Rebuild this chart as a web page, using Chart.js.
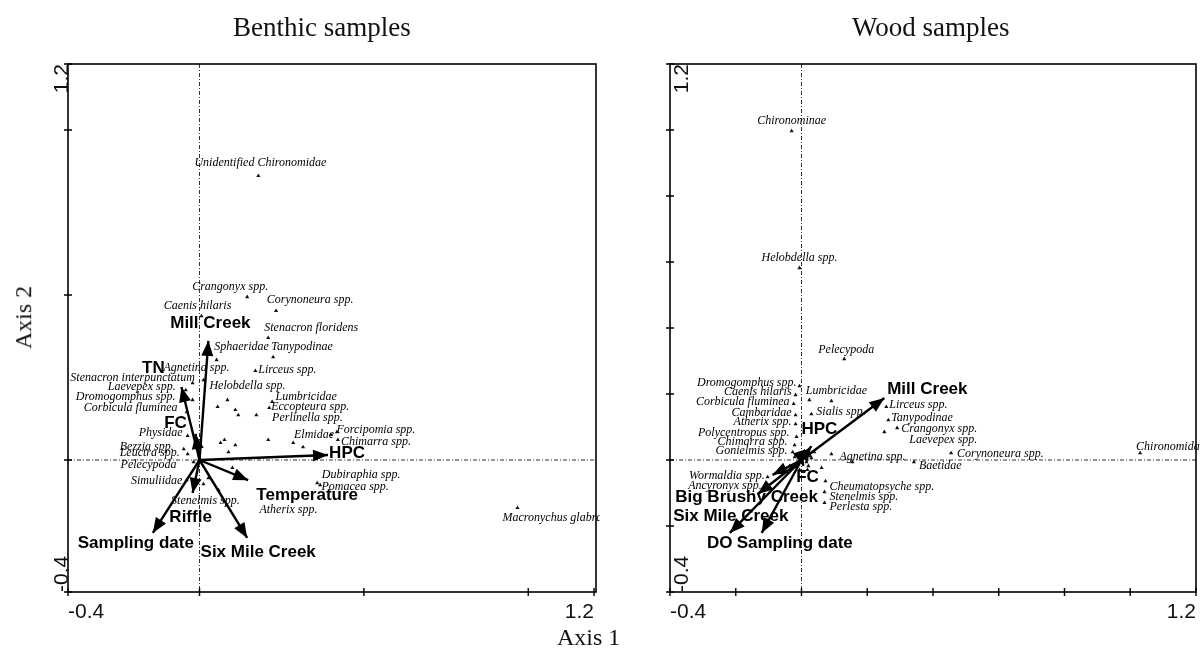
<!DOCTYPE html>
<html>
<head>
<meta charset="utf-8">
<script src="https://cdn.jsdelivr.net/npm/chart.js@4.4.1/dist/chart.umd.min.js"></script>
<style>
  body { margin: 0; background: #fff; width: 1200px; height: 654px; overflow: hidden; position: relative; }
  .panel { position: absolute; top: 0; width: 600px; height: 654px; }
  .txt { position: absolute; font-family: "Liberation Serif", "Times New Roman", serif; color: #111; white-space: nowrap; }
</style>
</head>
<body>
<div class="panel" style="left:0"><canvas id="benthic"></canvas></div>
<div class="panel" style="left:600px"><canvas id="wood"></canvas></div>
<div class="txt" style="left:233px;top:12px;font-size:27px">Benthic samples</div>
<div class="txt" style="left:852px;top:12px;font-size:27px">Wood samples</div>
<div class="txt" style="left:557px;top:624px;font-size:24px">Axis 1</div>
<div class="txt" style="left:-8px;top:304px;font-size:24px;transform:rotate(-90deg)">Axis 2</div>
<script>
// ---- Benthic samples ----
const benthicSpecies = ['Unidentified Chironomidae', 'Crangonyx spp.', 'Corynoneura spp.', 'Caenis hilaris',
  'Stenacron floridens', 'Sphaeridae', 'Tanypodinae', 'Agnetina spp.', 'Lirceus spp.', 'Stenacron interpunctatum',
  'Helobdella spp.', 'Laevepex spp.', 'Dromogomphus spp.', 'Lumbricidae', 'Eccopteura spp.', 'Corbicula fluminea',
  'Perlinella spp.', 'Physidae', 'Elmidae', 'Forcipomia spp.', 'Chimarra spp.', 'Bezzia spp.', 'Leuctra spp.',
  'Pelecypoda', 'Simuliidae', 'Stenelmis spp.', 'Dubiraphia spp.', 'Pomacea spp.', 'Atherix spp.', 'Macronychus glabratus'];
const benthicSpX = [0.179, 0.145, 0.233, 0.006, 0.209, 0.052, 0.224, 0.012, 0.170, -0.021,
  0.085, -0.042, -0.021, 0.221, 0.212, -0.039, 0.173, -0.036, 0.400, 0.418,
  0.421, -0.048, -0.036, -0.018, -0.039, 0.012, 0.358, 0.367, 0.100, 0.967];
const benthicSpY = [0.861, 0.494, 0.452, 0.436, 0.370, 0.303, 0.312, 0.242, 0.270, 0.233,
  0.182, 0.212, 0.182, 0.176, 0.158, 0.145, 0.136, 0.073, 0.076, 0.085,
  0.061, 0.033, 0.018, -0.006, -0.061, -0.073, -0.070, -0.076, -0.024, -0.145];
const benthicOtherX = [0.055, 0.109, 0.118, 0.064, 0.109, 0.209, 0.285, 0.315, 0.088, 0.058, 0.027, 0.076];
const benthicOtherY = [0.161, 0.152, 0.136, 0.052, 0.045, 0.061, 0.052, 0.039, 0.024, -0.091, -0.055, 0.061];
const benthicEnv = ['Mill Creek', 'TN', 'FC', 'HPC', 'Temperature', 'Riffle', 'Sampling date', 'Six Mile Creek'];
const benthicEnvX = [0.027, -0.055, -0.012, 0.391, 0.148, -0.021, -0.142, 0.145];
const benthicEnvY = [0.361, 0.221, 0.079, 0.015, -0.061, -0.100, -0.221, -0.236];
const benthicTicks = [-0.4, 0, 0.5, 1.0, 1.2];

// ---- Wood samples ----
const woodSpecies = ['Chironominae', 'Helobdella spp.', 'Pelecypoda', 'Dromogomphus spp.', 'Caenis hilaris',
  'Corbicula fluminea', 'Cambaridae', 'Atherix spp.', 'Polycentropus spp.', 'Chimarra spp.', 'Gonielmis spp.',
  'Wormaldia spp.', 'Ancyronyx spp.', 'Lumbricidae', 'Sialis spp.', 'Agnetina spp.', 'Lirceus spp.', 'Tanypodinae',
  'Crangonyx spp.', 'Laevepex spp.', 'Corynoneura spp.', 'Baetidae', 'Cheumatopsyche spp.', 'Stenelmis spp.',
  'Perlesta spp.', 'Chironomidae'];
const woodSpX = [-0.030, -0.006, 0.130, -0.006, -0.018, -0.024, -0.018, -0.018, -0.015, -0.021, -0.027,
  -0.103, -0.112, 0.091, 0.030, 0.091, 0.258, 0.264, 0.291, 0.252, 0.455, 0.342, 0.073, 0.070, 0.070, 1.030];
const woodSpY = [0.997, 0.582, 0.306, 0.224, 0.197, 0.170, 0.136, 0.109, 0.070, 0.045, 0.024,
  -0.052, -0.085, 0.179, 0.139, 0.018, 0.161, 0.121, 0.097, 0.085, 0.021, -0.006, -0.064, -0.097, -0.130, 0.021];
const woodOtherX = [0, 0.012, -0.012, 0.021, -0.006, 0.030, -0.021, 0.039, 0.006, 0.155, 0.024, 0.061, -0.036,
  0.015, -0.015, 0.009, 0.027, -0.003, 0.018];
const woodOtherY = [0, 0.015, -0.009, -0.018, -0.030, 0.006, 0.009, 0.024, -0.036, -0.006, 0.182, -0.024, -0.018,
  -0.006, -0.021, 0.027, 0.012, 0.012, -0.030];
const woodEnv = ['Mill Creek', 'HPC', 'FC', 'Big Brushy Creek', 'Six Mile Creek', 'DO', 'Sampling date'];
const woodEnvX = [0.252, 0.030, 0.006, -0.088, -0.133, -0.218, -0.121];
const woodEnvY = [0.188, 0.042, -0.018, -0.045, -0.103, -0.221, -0.221];
const woodTicks = [-0.4, -0.2, 0, 0.2, 0.4, 0.6, 0.8, 1.0, 1.2];

const endLabels = ['-0.4', '1.2'];

// label placement (pixel offsets from the point / arrow tip)
const benthicSpLab = [[2,-13,'center'],[-17,-10,'center'],[34,-11,'center'],[-4,-10,'center'],[43,-10,'center'],
  [25,-13,'center'],[29,-10,'center'],[-7,-12,'center'],[32,-1,'center'],[-60,-5,'center'],
  [20,-14,'center'],[-44,-3,'center'],[-67,-3,'center'],[34,-5,'center'],[41,-1,'center'],
  [-56,-4,'center'],[51,3,'center'],[-27,-3,'center'],[-17,0,'center'],[39,-2,'center'],
  [38,2,'center'],[-37,-2,'center'],[-38,-1,'center'],[-45,3,'center'],[-30,1,'center'],
  [2,17,'center'],[44,-8,'center'],[35,2,'center'],[56,42,'center'],[42,10,'center']];
const benthicEnvLab = [[2,-18],[-28,-19],[-20,-11],[19,-2],[59,15],[-2,24],[-17,10],[11,14]];
const woodSpLab = [[0,-10,'center'],[0,-10,'center'],[2,-9,'center'],[-3,-3,'right'],[-4,-3,'right'],
  [-4,-2,'right'],[-4,-2,'right'],[-4,-2,'right'],[-7,-4,'right'],[-7,-3,'right'],[-5,-1,'right'],
  [-3,-1,'right'],[-3,-2,'right'],[5,-10,'center'],[5,-2,'left'],[8,3,'left'],[3,-2,'left'],[3,-2,'left'],
  [4,1,'left'],[25,8,'left'],[6,1,'left'],[5,4,'left'],[4,6,'left'],[5,5,'left'],[5,4,'left'],[-4,-6,'left']];
const woodEnvLab = [[43,-9],[8,-17],[4,11],[-26,22],[-27,22],[-10,10],[33,10]];

function biplotPlugin(p) {
  return {
    id: 'biplot',
    beforeDatasetsDraw(chart) {
      const ctx = chart.ctx, a = chart.chartArea;
      const xs = chart.scales.x, ys = chart.scales.y;
      const x0 = xs.getPixelForValue(0), y0 = ys.getPixelForValue(0);
      ctx.save();
      // zero lines
      ctx.strokeStyle = '#333';
      ctx.lineWidth = 1;
      ctx.setLineDash([4, 2, 1, 2]);
      ctx.beginPath();
      ctx.moveTo(x0, a.top); ctx.lineTo(x0, a.bottom);
      ctx.moveTo(a.left, y0); ctx.lineTo(a.right, y0);
      ctx.stroke();
      ctx.setLineDash([]);
      // frame
      ctx.strokeStyle = '#000';
      ctx.lineWidth = 1.6;
      ctx.strokeRect(a.left, a.top, a.right - a.left, a.bottom - a.top);
      // ticks
      ctx.lineWidth = 1.4;
      ctx.beginPath();
      p.ticks.forEach(t => {
        const px = xs.getPixelForValue(t), py = ys.getPixelForValue(t);
        ctx.moveTo(px, a.bottom - 4); ctx.lineTo(px, a.bottom + 4);
        ctx.moveTo(a.left - 4, py); ctx.lineTo(a.left + 4, py);
      });
      ctx.stroke();
      // end labels
      ctx.fillStyle = '#111';
      ctx.font = '21px "Liberation Sans", Arial, sans-serif';
      ctx.textBaseline = 'top';
      ctx.textAlign = 'left';
      ctx.fillText(endLabels[0], xs.getPixelForValue(-0.4), a.bottom + 10);
      ctx.textAlign = 'right';
      ctx.fillText(endLabels[1], xs.getPixelForValue(1.2), a.bottom + 10);
      ctx.save();
      ctx.translate(a.left + p.yLabDx, ys.getPixelForValue(1.2));
      ctx.rotate(-Math.PI / 2);
      ctx.textAlign = 'right';
      ctx.textBaseline = 'middle';
      ctx.fillText(endLabels[1], 0, 0);
      ctx.restore();
      ctx.save();
      ctx.translate(a.left + p.yLabDx, ys.getPixelForValue(-0.4));
      ctx.rotate(-Math.PI / 2);
      ctx.textAlign = 'left';
      ctx.textBaseline = 'middle';
      ctx.fillText(endLabels[0], 0, 0);
      ctx.restore();
      ctx.restore();
    },
    afterDatasetsDraw(chart) {
      const ctx = chart.ctx;
      const xs = chart.scales.x, ys = chart.scales.y;
      const x0 = xs.getPixelForValue(0), y0 = ys.getPixelForValue(0);
      ctx.save();
      ctx.fillStyle = '#000';
      // arrow heads + env labels
      p.envX.forEach((v, i) => {
        const tx = xs.getPixelForValue(v), ty = ys.getPixelForValue(p.envY[i]);
        const ang = Math.atan2(ty - y0, tx - x0);
        const L = 15, W = 6;
        ctx.beginPath();
        ctx.moveTo(tx, ty);
        ctx.lineTo(tx - L * Math.cos(ang) + W * Math.sin(ang), ty - L * Math.sin(ang) - W * Math.cos(ang));
        ctx.lineTo(tx - L * Math.cos(ang) - W * Math.sin(ang), ty - L * Math.sin(ang) + W * Math.cos(ang));
        ctx.closePath();
        ctx.fill();
      });
      ctx.font = 'bold 17px "Liberation Sans", Arial, sans-serif';
      ctx.textAlign = 'center';
      ctx.textBaseline = 'middle';
      p.env.forEach((name, i) => {
        const tx = xs.getPixelForValue(p.envX[i]), ty = ys.getPixelForValue(p.envY[i]);
        ctx.fillText(name, tx + p.envLab[i][0], ty + p.envLab[i][1]);
      });
      // species labels
      ctx.font = 'italic 12px "Liberation Serif", "Times New Roman", serif';
      p.sp.forEach((name, i) => {
        const px = xs.getPixelForValue(p.spX[i]), py = ys.getPixelForValue(p.spY[i]);
        const o = p.spLab[i];
        ctx.textAlign = o[2];
        ctx.fillText(name, px + o[0], py + o[1]);
      });
      ctx.restore();
    }
  };
}

function buildChart(id, p) {
  const datasets = [];
  p.envX.forEach((x, i) => datasets.push({
    data: [{ x: 0, y: 0 }, { x: x, y: p.envY[i] }],
    showLine: true, borderColor: '#000', borderWidth: 2.4, pointRadius: 0
  }));
  datasets.push({
    data: p.spX.map((x, i) => ({ x: x, y: p.spY[i] })),
    pointStyle: 'triangle', pointRadius: 2.4, backgroundColor: '#111', borderWidth: 0
  });
  datasets.push({
    data: p.otherX.map((x, i) => ({ x: x, y: p.otherY[i] })),
    pointStyle: 'triangle', pointRadius: 2.4, backgroundColor: '#111', borderWidth: 0
  });
  return new Chart(document.getElementById(id), {
    type: 'scatter',
    data: { datasets: datasets },
    options: {
      responsive: true,
      maintainAspectRatio: false,
      animation: false,
      events: [],
      layout: { padding: p.pad },
      plugins: { legend: { display: false }, tooltip: { enabled: false } },
      scales: {
        x: { type: 'linear', display: false, min: -0.4, max: p.xMax },
        y: { type: 'linear', display: false, min: -0.4, max: 1.2 }
      }
    },
    plugins: [biplotPlugin(p)]
  });
}

buildChart('benthic', {
  sp: benthicSpecies, spX: benthicSpX, spY: benthicSpY, spLab: benthicSpLab,
  otherX: benthicOtherX, otherY: benthicOtherY,
  env: benthicEnv, envX: benthicEnvX, envY: benthicEnvY, envLab: benthicEnvLab,
  ticks: benthicTicks, xMax: 1.206, yLabDx: -6,
  pad: { left: 68, right: 3, top: 64, bottom: 62 }
});
buildChart('wood', {
  sp: woodSpecies, spX: woodSpX, spY: woodSpY, spLab: woodSpLab,
  otherX: woodOtherX, otherY: woodOtherY,
  env: woodEnv, envX: woodEnvX, envY: woodEnvY, envLab: woodEnvLab,
  ticks: woodTicks, xMax: 1.2, yLabDx: 12,
  pad: { left: 70, right: 2, top: 64, bottom: 62 }
});
</script>
</body>
</html>
